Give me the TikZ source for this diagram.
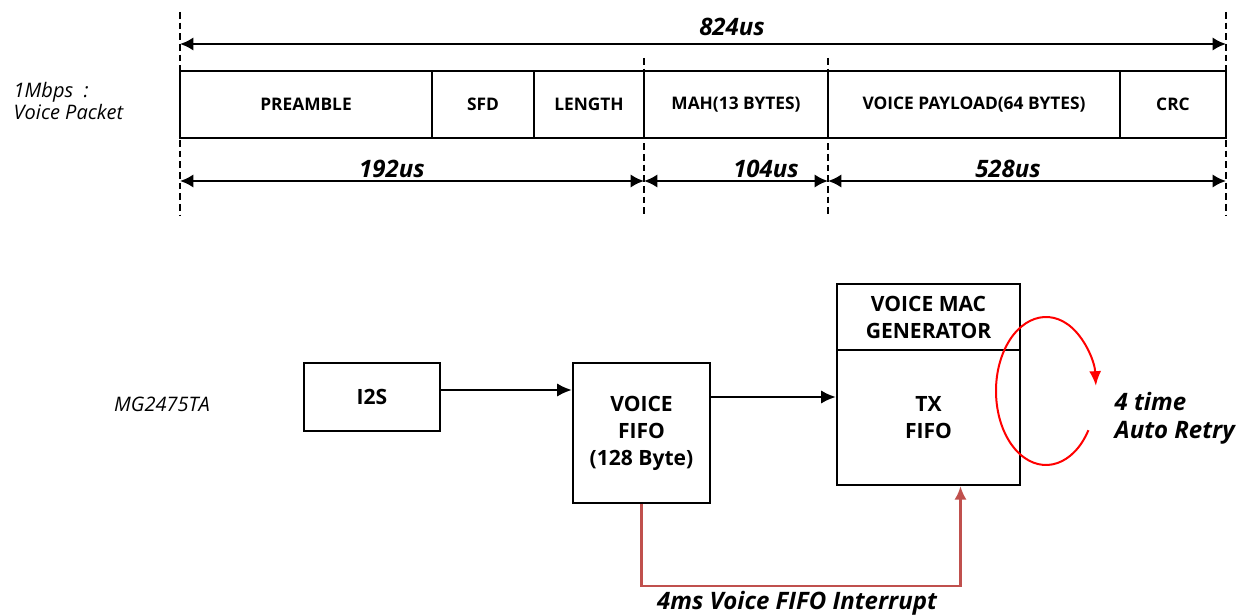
\documentclass[tikz,border=0pt]{standalone}
\usepackage{fontspec}
\setmainfont{Open Sans}
\usetikzlibrary{arrows.meta,calc}
\definecolor{intred}{HTML}{C0504D}
\begin{document}
\begin{tikzpicture}[x=0.75pt,y=-0.75pt,
  field/.style={draw,line width=1.8pt,inner sep=0pt,minimum height=50.25pt,font=\fontsize{13}{15}\selectfont\bfseries},
  blk/.style={draw,line width=1.8pt,inner sep=0pt,align=center,font=\fontsize{15.8}{20.25}\selectfont\bfseries},
  vdash/.style={line width=1.3pt,dash pattern=on 5pt off 3pt},
  dim/.style={line width=1.8pt,{Latex[length=10pt,width=10pt]}-{Latex[length=10pt,width=10pt]}},
  dimlbl/.style={font=\fontsize{18}{20}\selectfont\bfseries\itshape},
  arr/.style={line width=1.6pt,-{Latex[length=11pt,width=10pt]}},
  intarr/.style={draw=intred,line width=1.7pt,-{Latex[length=10pt,width=9pt]}},
  ital/.style={font=\fontsize{15}{17}\selectfont\itshape,align=left},
  bital/.style={font=\fontsize{18}{21}\selectfont\bfseries\itshape,align=left}]
\useasboundingbox (0,0) rectangle (1240,616);

% dashed verticals
\draw[vdash] (180,12) -- (180,215);
\draw[vdash] (1226,12) -- (1226,215);
\draw[vdash] (644,58) -- (644,215);
\draw[vdash] (828,58) -- (828,215);

% dimension anchors
\coordinate (t0) at (180,44);
\coordinate (t1) at (1226,44);
\coordinate (b0) at (180,181);
\coordinate (b1) at (644,181);
\coordinate (b2) at (828,181);
\coordinate (b3) at (1226,181);
\draw[dim] (t0) -- (t1);
\node[dimlbl] (l824) at (732,27) {824us};
\draw[dim] (b0) -- (b1);
\draw[dim] (b1) -- (b2);
\draw[dim] (b2) -- (b3);
\node[dimlbl] (l192) at (392,169) {192us};
\node[dimlbl] (l104) at (766,169) {104us};
\node[dimlbl] (l528) at (1008,169) {528us};

% packet fields
\node[field,minimum width=189pt] (pre) at (306,104.5) {PREAMBLE};
\node[field,minimum width=76.5pt] (sfd) at (483,104.5) {SFD};
\node[field,minimum width=82.5pt] (len) at (589,104.5) {LENGTH};
\node[field,minimum width=138pt] (mah) at (736,104.5) {MAH(13 BYTES)};
\node[field,minimum width=219pt] (pay) at (974,104.5) {VOICE PAYLOAD(64 BYTES)};
\node[field,minimum width=79.5pt] (crc) at (1173,104.5) {CRC};

\node[ital,anchor=west] (mbps) at (9,101) {1Mbps\ \ :\\Voice Packet};

% blocks
\node[ital] (chip) at (162,404) {MG2475TA};
\node[blk,minimum width=102pt,minimum height=51pt] (i2s) at (372,397) {I2S};
\node[blk,minimum width=102.75pt,minimum height=105pt] (vfifo) at (641.5,433) {VOICE\\FIFO\\(128 Byte)};
\node[blk,minimum width=137.25pt,minimum height=49.5pt] (mac) at (928.5,317) {VOICE MAC\\GENERATOR};
\node[blk,minimum width=137.25pt,minimum height=101.25pt] (tx) at (928.5,417.5) {TX\\FIFO};

\draw[arr] ([yshift=5.25pt]i2s.east) -- ([yshift=5.25pt]i2s.east -| vfifo.west);
\draw[arr] ([yshift=27pt]vfifo.east) -- ([yshift=27pt]vfifo.east -| tx.west);

\draw[intarr] (vfifo.south) -- ++(0,82) -| ([xshift=24pt]tx.south);
\node[bital] (intlbl) at (797,603) {4ms Voice FIFO Interrupt};

% retry loop
\coordinate (rc) at (1046,391);
\draw[red,line width=1.5pt,-{Latex[length=11pt,width=9pt]}] ($(rc)+(32:50 and 74)$) arc[start angle=32,end angle=356,x radius=50,y radius=74];
\node[bital,anchor=west] (retry) at (1110,418) {4 time\\Auto Retry};
\end{tikzpicture}
\end{document}
